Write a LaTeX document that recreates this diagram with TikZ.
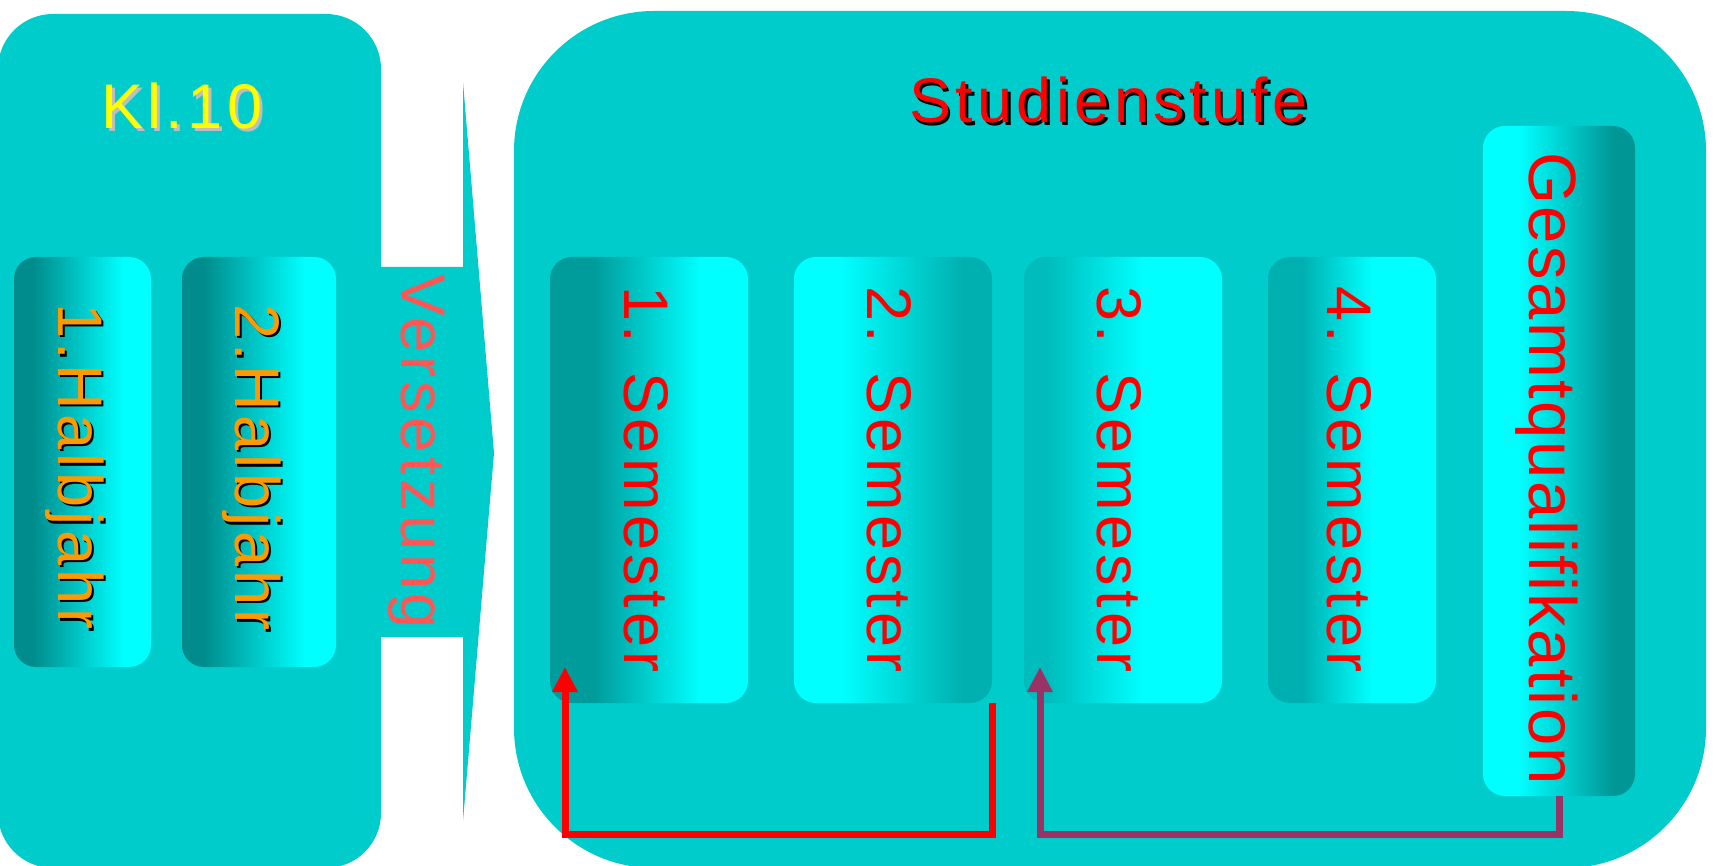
\documentclass[tikz,border=0pt]{standalone}
\usepackage{fontspec}
\usetikzlibrary{arrows.meta}
\newfontfamily\lsA[LetterSpace=7,Ligatures=CommonOff]{Liberation Sans}
\newfontfamily\lsB[LetterSpace=3.7,Ligatures=CommonOff]{Liberation Sans}
\definecolor{bg}{HTML}{00CCCC}
\definecolor{cy}{HTML}{00FFFF}
\definecolor{dkH}{RGB}{0,140,140}
\definecolor{dkA}{RGB}{0,155,155}
\definecolor{dkB}{RGB}{0,175,175}
\definecolor{dkC}{RGB}{0,188,188}
\definecolor{dkG}{RGB}{0,150,150}
\definecolor{salmon}{HTML}{FF5555}
\definecolor{orng}{HTML}{FF9900}
\definecolor{yel}{HTML}{FFFF00}
\definecolor{shgray}{RGB}{190,190,190}
\definecolor{plum}{HTML}{993366}
\pgfdeclarehorizontalshading{shH}{100bp}{color(0bp)=(dkH); color(32bp)=(dkH); color(65bp)=(cy); color(100bp)=(cy)}
\pgfdeclarehorizontalshading{shSa}{100bp}{color(0bp)=(dkA); color(36bp)=(dkA); color(63bp)=(cy); color(100bp)=(cy)}
\pgfdeclarehorizontalshading{shSb}{100bp}{color(0bp)=(cy); color(37bp)=(cy); color(68bp)=(dkB); color(100bp)=(dkB)}
\pgfdeclarehorizontalshading{shSc}{100bp}{color(0bp)=(dkC); color(31bp)=(dkC); color(55bp)=(cy); color(100bp)=(cy)}
\pgfdeclarehorizontalshading{shSd}{100bp}{color(0bp)=(dkB); color(35bp)=(dkB); color(56bp)=(cy); color(100bp)=(cy)}
\pgfdeclarehorizontalshading{shG}{100bp}{color(0bp)=(cy); color(37bp)=(cy); color(68bp)=(dkG); color(100bp)=(dkG)}
\tikzset{
  panel/.style={fill=bg, draw=none},
  inbox/.style={draw=none, rounded corners=22pt, inner sep=0pt},
  rtext/.style={inner sep=0pt, anchor=base west, rotate=-90},
  htext/.style={inner sep=0pt, anchor=base west},
  big/.style={font=\fontsize{63}{70}\selectfont\lsA},
  bigG/.style={font=\fontsize{67}{74}\selectfont\lsB},
  redline/.style={draw=red, line width=7pt, line join=miter, -{Triangle[length=25pt,width=24pt]}},
  plumline/.style={draw=plum, line width=7pt, line join=miter, -{Triangle[length=25pt,width=24pt]}},
}
\begin{document}
\begin{tikzpicture}[x=1pt,y=-1pt]
\useasboundingbox (0,0) rectangle (1717,866);
\fill[white] (0,0) rectangle (1717,866);
% panels
\path[panel, rounded corners=55pt] (-2,14) rectangle (381,868);
\path[panel] (381,267) -- (463,267) -- (463,82) -- (494,453) -- (463,821) -- (463,637) -- (381,637) -- cycle;
\path[panel, rounded corners=140pt] (514,11) rectangle (1706,868);
% boxes
\node[inbox, shading=shH, minimum width=137pt, minimum height=410pt] (h1) at (82.5,462) {};
\node[inbox, shading=shH, minimum width=154pt, minimum height=410pt] (h2) at (259,462) {};
\node[inbox, shading=shSa, minimum width=198pt, minimum height=446pt] (s1) at (649,480) {};
\node[inbox, shading=shSb, minimum width=198pt, minimum height=446pt] (s2) at (893,480) {};
\node[inbox, shading=shSc, minimum width=198pt, minimum height=446pt] (s3) at (1123,480) {};
\node[inbox, shading=shSd, minimum width=168pt, minimum height=446pt] (s4) at (1352,480) {};
\node[inbox, shading=shG, minimum width=152pt, minimum height=670pt] (g) at (1559,461) {};
% titles
\node[htext, big, text=shgray] (klsh) at (104,132) {Kl.10};
\node[htext, big, text=yel] (kl) at (101,129) {Kl.10};
\node[htext, big, text=black] (stsh) at (911.5,125.5) {Studienstufe};
\node[htext, big, text=red] (st) at (909,123) {Studienstufe};
% Halbjahr
\node[rtext, big, text=black] (t1sh) at (60.5,305.5) {1.Halbjahr};
\node[rtext, big, text=orng] (t1) at (58,303) {1.Halbjahr};
\node[rtext, big, text=black] (t2sh) at (237.5,306.5) {2.Halbjahr};
\node[rtext, big, text=orng] (t2) at (235,304) {2.Halbjahr};
% Versetzung
\node[rtext, big, text=salmon] (vs) at (401,274) {Versetzung};
% Semester
\node[rtext, big, text=red] (ts1) at (624,286) {1. Semester};
\node[rtext, big, text=red] (ts2) at (867,286) {2. Semester};
\node[rtext, big, text=red] (ts3) at (1097,286) {3. Semester};
\node[rtext, big, text=red] (ts4) at (1327,286) {4. Semester};
\node[rtext, bigG, text=red] (tg) at (1529,152) {Gesamtqualifikation};
% connectors
\coordinate (a1) at (565,667);
\coordinate (a2) at (1040,667);
\draw[redline] (s2.south east) -- ++(0,131) -| (a1);
\draw[plumline] (g.south) -- ++(0,38) -| (a2);
\end{tikzpicture}
\end{document}
